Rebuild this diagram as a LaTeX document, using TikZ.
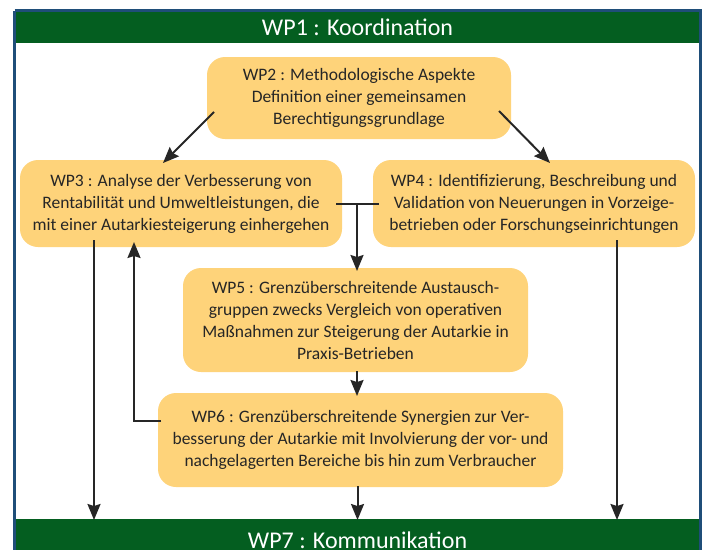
\documentclass[tikz,border=0pt]{standalone}
\usepackage{fontspec}
\setmainfont{Carlito}
\usetikzlibrary{arrows.meta}
\definecolor{wpgreen}{RGB}{4,94,32}
\definecolor{wpblue}{RGB}{31,78,121}
\definecolor{wporange}{RGB}{254,211,122}
\definecolor{wptext}{RGB}{38,38,38}

\begin{document}
\begin{tikzpicture}[%
        x=1pt, y=-1pt,
        wp/.style={
            % the shape:
            rectangle,
            rounded corners=18pt,
            % the rest:
            fill=wporange,
            text=wptext,
            font=\fontsize{17.5}{22}\selectfont,
            align=center,
            inner sep=0pt,
        },
        bar/.style={
            rectangle,
            fill=wpgreen,
            text=white,
            font=\fontsize{24}{28}\selectfont,
            minimum width=683pt,
            inner sep=0pt,
        },
        >={Stealth[length=16pt,width=13pt,inset=2pt]},
        line width=2pt
    ]

    \useasboundingbox (0,0) rectangle (707,549);

    % frame and the two bars
    \node[bar, minimum height=31pt] (WP1) at (357.5,27.5) {WP1 : Koordination};
    \node[bar, minimum height=42pt] (WP7) at (357.5,540) {WP7 : Kommunikation};
    \draw[wpblue, line width=3pt] (14.5,10.5) -- (700.5,10.5) -- (700.5,560);
    \draw[wpblue, line width=3pt] (14.5,10.5) -- (14.5,560);

    % work packages
    \node[wp, minimum width=304pt, minimum height=82pt] (WP2) at (359,98)
        {WP2 : Methodologische Aspekte\\Definition einer gemeinsamen\\Berechtigungsgrundlage};
    \node[wp, minimum width=322pt, minimum height=87pt] (WP3) at (181,203.5)
        {WP3 : Analyse der Verbesserung von\\Rentabilität und Umweltleistungen, die\\mit einer Autarkiesteigerung einhergehen};
    \node[wp, minimum width=322pt, minimum height=87pt] (WP4) at (534,203.5)
        {WP4 : Identifizierung, Beschreibung und\\Validation von Neuerungen in Vorzeige-\\betrieben oder Forschungseinrichtungen};
    \node[wp, minimum width=345pt, minimum height=104pt] (WP5) at (355.5,320)
        {WP5 : Grenzüberschreitende Austausch-\\gruppen zwecks Vergleich von operativen\\Maßnahmen zur Steigerung der Autarkie in\\Praxis-Betrieben};
    \node[wp, minimum width=405pt, minimum height=94pt] (WP6) at (360.5,440)
        {WP6 : Grenzüberschreitende Synergien zur Ver-\\besserung der Autarkie mit Involvierung der vor- und\\nachgelagerten Bereiche bis hin zum Verbraucher};

    \begin{scope}[draw=wptext, fill=wptext]
        \draw[->] ([xshift=8pt,yshift=-14pt]WP2.west) -- ([xshift=-18pt,yshift=-4pt]WP3.north);
        \draw[->] ([xshift=-13pt,yshift=-13pt]WP2.east) -- ([xshift=16pt,yshift=-4pt]WP4.north);

        \draw ([xshift=-7pt]WP3.east) -- ([xshift=7pt]WP4.west);
        \draw[->] ([xshift=1.5pt]WP3.east -| WP5.north) -- ([xshift=1.5pt,yshift=-4pt]WP5.north);
        \draw[->] ([xshift=1.5pt,yshift=2pt]WP5.south) -- ([xshift=1.5pt,yshift=-4pt]WP5.south |- WP6.north);

        \draw[->] ([xshift=4pt,yshift=19pt]WP6.west) -| ([xshift=-47pt,yshift=6pt]WP3.south);

        \coordinate (wp3out) at ([xshift=-87pt,yshift=8pt]WP3.south);
        \coordinate (wp4out) at ([xshift=83pt,yshift=8pt]WP4.south);
        \coordinate (wp6out) at ([xshift=-3pt,yshift=2pt]WP6.south);
        \draw[->] (wp3out) -- ([yshift=-2pt]wp3out |- WP7.north);
        \draw[->] (wp6out) -- ([yshift=-2pt]wp6out |- WP7.north);
        \draw[->] (wp4out) -- ([yshift=-2pt]wp4out |- WP7.north);
    \end{scope}

\end{tikzpicture}
\end{document}
